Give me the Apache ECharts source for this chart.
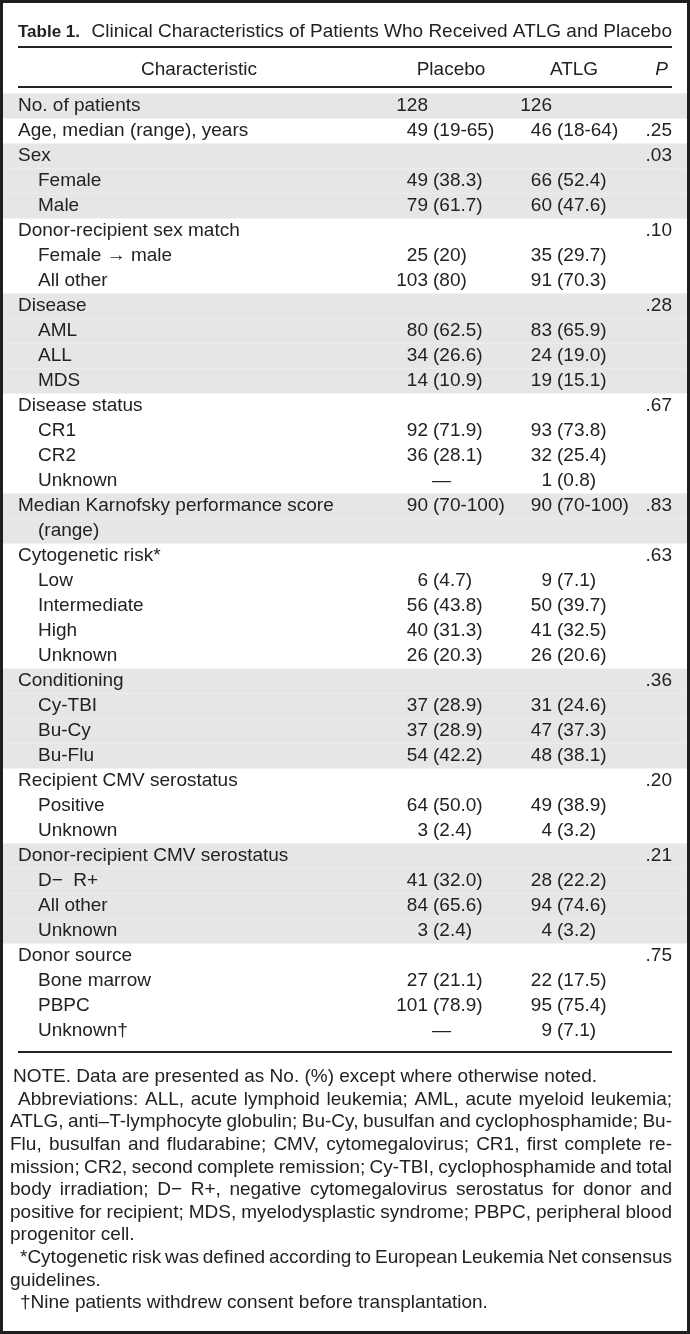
<!DOCTYPE html>
<html>
<head>
<meta charset="utf-8">
<script src="https://cdn.jsdelivr.net/npm/echarts@6/dist/echarts.min.js"></script>
<style>
  html, body { margin: 0; padding: 0; background: #fff; }
  #chart { width: 690px; height: 1334px; }
</style>
</head>
<body>
<div id="chart"></div>
<script>
// ---------- DATA ----------
const rowLabels = [
  'No. of patients', 'Age, median (range), years',
  'Sex', 'Female', 'Male',
  'Donor-recipient sex match', 'Female \u2192 male', 'All other',
  'Disease', 'AML', 'ALL', 'MDS',
  'Disease status', 'CR1', 'CR2', 'Unknown',
  'Median Karnofsky performance score', '(range)',
  'Cytogenetic risk*', 'Low', 'Intermediate', 'High', 'Unknown',
  'Conditioning', 'Cy-TBI', 'Bu-Cy', 'Bu-Flu',
  'Recipient CMV serostatus', 'Positive', 'Unknown',
  'Donor-recipient CMV serostatus', 'D\u2212  R+', 'All other', 'Unknown',
  'Donor source', 'Bone marrow', 'PBPC', 'Unknown\u2020'
];
const rowLevels = [0,0, 0,1,1, 0,1,1, 0,1,1,1, 0,1,1,1, 0,1, 0,1,1,1,1, 0,1,1,1, 0,1,1, 0,1,1,1, 0,1,1,1];
const rowGroups = [0,1, 2,2,2, 3,3,3, 4,4,4,4, 5,5,5,5, 6,6, 7,7,7,7,7, 8,8,8,8, 9,9,9, 10,10,10,10, 11,11,11,11];

const placeboN = [128,49, null,49,79, null,25,103, null,80,34,14, null,92,36,null, 90,null, null,6,56,40,26, null,37,37,54, null,64,3, null,41,84,3, null,27,101,null];
const placeboPct = ['','19-65', '','38.3','61.7', '','20','80', '','62.5','26.6','10.9', '','71.9','28.1','\u2014', '70-100','', '','4.7','43.8','31.3','20.3', '','28.9','28.9','42.2', '','50.0','2.4', '','32.0','65.6','2.4', '','21.1','78.9','\u2014'];
const atlgN = [126,46, null,66,60, null,35,91, null,83,24,19, null,93,32,1, 90,null, null,9,50,41,26, null,31,47,48, null,49,4, null,28,94,4, null,22,95,9];
const atlgPct = ['','18-64', '','52.4','47.6', '','29.7','70.3', '','65.9','19.0','15.1', '','73.8','25.4','0.8', '70-100','', '','7.1','39.7','32.5','20.6', '','24.6','37.3','38.1', '','38.9','3.2', '','22.2','74.6','3.2', '','17.5','75.4','7.1'];
const pValues = ['','.25', '.03','','', '.10','','', '.28','','','', '.67','','','', '.83','', '.63','','','','', '.36','','','', '.20','','', '.21','','','', '.75','','',''];

const headers = ['Characteristic', 'Placebo', 'ATLG', 'P'];
const titleBold = 'Table 1.';
const titleText = 'Clinical Characteristics of Patients Who Received ATLG and Placebo';
const footnotes = [
  { text: 'NOTE. Data are presented as No. (%) except where otherwise noted.', indent: 3, justify: false },
  { text: 'Abbreviations: ALL, acute lymphoid leukemia; AML, acute myeloid leukemia;', indent: 8, justify: true },
  { text: 'ATLG, anti\u2013T-lymphocyte globulin; Bu-Cy, busulfan and cyclophosphamide; Bu-', indent: 0, justify: true },
  { text: 'Flu, busulfan and fludarabine; CMV, cytomegalovirus; CR1, first complete re-', indent: 0, justify: true },
  { text: 'mission; CR2, second complete remission; Cy-TBI, cyclophosphamide and total', indent: 0, justify: true },
  { text: 'body irradiation; D\u2212 R+, negative cytomegalovirus serostatus for donor and', indent: 0, justify: true },
  { text: 'positive for recipient; MDS, myelodysplastic syndrome; PBPC, peripheral blood', indent: 0, justify: true },
  { text: 'progenitor cell.', indent: 0, justify: false },
  { text: '*Cytogenetic risk was defined according to European Leukemia Net consensus', indent: 10, justify: true },
  { text: 'guidelines.', indent: 0, justify: false },
  { text: '\u2020Nine patients withdrew consent before transplantation.', indent: 10, justify: false }
];

// ---------- STYLE ----------
const FONT = "'Liberation Sans', Arial, Helvetica, sans-serif";
const FS = 19;
const INK = '#222';
const BAND = '#e6e6e6';
const L = 18, R = 672;
const LABEL_X = [18, 38];
const PLA_N_X = 428, ATLG_N_X = 552, P_X = 672;

function txt(x, y, text, opts) {
  opts = opts || {};
  return {
    type: 'text', x: x, y: y,
    style: Object.assign({
      text: text, fill: INK, fontSize: FS, fontFamily: FONT,
      align: opts.align || 'left', textAlign: opts.align || 'left',
      verticalAlign: 'middle', textVerticalAlign: 'middle'
    }, opts.style || {})
  };
}

const chart = echarts.init(document.getElementById('chart'), null, { renderer: 'canvas' });

const ROW_H = 25;
const gridTop = 93.5;

function renderRow(params, api) {
  const i = api.value(1);
  const p = api.coord([0, i]);
  const y = p[1];
  const h = api.size([0, 1])[1];
  const children = [];
  if (rowGroups[i] % 2 === 0) {
    children.push({ type: 'rect', shape: { x: 3, y: y - h / 2, width: 684, height: h }, style: { fill: BAND } });
  }
  children.push(txt(api.coord([LABEL_X[rowLevels[i]], i])[0], y, rowLabels[i]));
  const cols = [[placeboN, placeboPct, PLA_N_X], [atlgN, atlgPct, ATLG_N_X]];
  cols.forEach(function (c) {
    const n = c[0][i], pct = c[1][i], xn = api.coord([c[2], i])[0];
    if (n !== null) {
      children.push(txt(xn, y, String(n), { align: 'right' }));
      if (pct) children.push(txt(xn + 5, y, '(' + pct + ')'));
    } else if (pct) {
      children.push(txt(xn + 4, y, pct));
    }
  });
  if (pValues[i]) children.push(txt(api.coord([P_X, i])[0], y, pValues[i], { align: 'right' }));
  return { type: 'group', children: children };
}

// footnotes with justification
const mctx = document.createElement('canvas').getContext('2d');
mctx.font = FS + 'px ' + FONT;
function footLine(f, y) {
  const x0 = 10 + f.indent, x1 = R;
  if (!f.justify) return txt(x0, y, f.text);
  const words = f.text.split(/ +/);
  const widths = words.map(function (w) { return mctx.measureText(w).width; });
  const sum = widths.reduce(function (a, b) { return a + b; }, 0);
  let gap = (x1 - x0 - sum) / (words.length - 1);
  let scale = 1;
  if (gap < 3) { gap = 3; scale = (x1 - x0) / (sum + gap * (words.length - 1)); }
  let x = 0;
  const ch = words.map(function (w, k) { const e = txt(x, 0, w); x += widths[k] + gap; return e; });
  return { type: 'group', x: x0, y: y, scaleX: scale, children: ch };
}

const graphics = [];
// title
graphics.push(txt(L, 32, titleBold, { style: { fontWeight: 'bold', fontSize: 17 } }));
graphics.push(txt(R, 32, titleText, { align: 'right' }));
// rules
[47, 87, 1052].forEach(function (yy) {
  graphics.push({ type: 'line', shape: { x1: L, y1: yy, x2: R, y2: yy }, style: { stroke: INK, lineWidth: 2 } });
});
// headers
graphics.push(txt(199, 70, headers[0], { align: 'center' }));
graphics.push(txt(451, 70, headers[1], { align: 'center' }));
graphics.push(txt(574, 70, headers[2], { align: 'center' }));
graphics.push(txt(668, 70, headers[3], { align: 'right', style: { fontStyle: 'italic' } }));
// footnotes
footnotes.forEach(function (f, k) { graphics.push(footLine(f, 1077 + k * 22.6)); });
// border
graphics.push({ type: 'rect', z: 100, shape: { x: 1.5, y: 1.5, width: 687, height: 1331 }, style: { fill: null, stroke: '#1e1e1e', lineWidth: 3 } });

chart.setOption({
  backgroundColor: '#fff',
  animation: false,
  grid: { left: 0, right: 0, top: gridTop, height: ROW_H * rowLabels.length },
  xAxis: { type: 'value', min: 0, max: 690, show: false },
  yAxis: { type: 'category', inverse: true, data: rowLabels.map(function (_, i) { return i; }), show: false },
  series: [{
    type: 'custom',
    renderItem: renderRow,
    data: rowLabels.map(function (_, i) { return [0, i]; }),
    clip: false,
    silent: true
  }],
  graphic: graphics
});
</script>
</body>
</html>
